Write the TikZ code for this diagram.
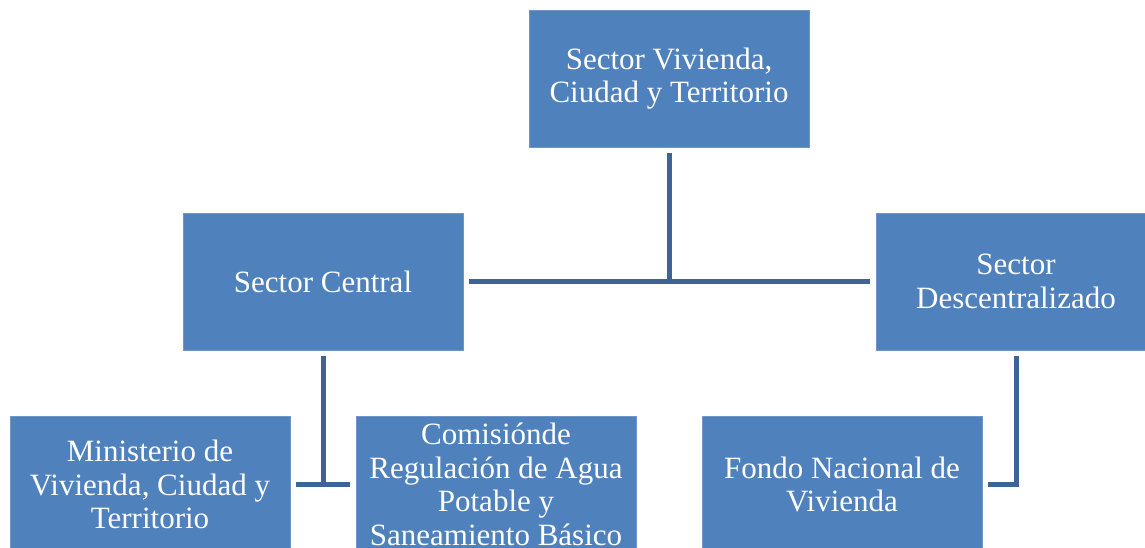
\documentclass[tikz,border=0pt]{standalone}
\usepackage{fontspec}
\setmainfont{Liberation Serif}
\definecolor{boxblue}{HTML}{4F81BD}
\definecolor{boxedge}{HTML}{7096C8}
\definecolor{linkblue}{HTML}{3E6497}
\tikzset{
   box/.style ={
      rectangle, draw=boxedge, fill=boxblue, text=white,
      line width=0.8pt, align=center,
      minimum width=280pt, minimum height=137pt,
      font=\fontsize{31}{33.5}\selectfont,
   },
   line/.style ={
      -, line width=5pt, color=linkblue,
   },
}
\begin{document}
\begin{tikzpicture}

      \useasboundingbox (0pt,0pt) rectangle (1145pt,-548pt);

      \node[box] (top) at (669pt,-78.5pt) {Sector Vivienda,\\Ciudad y Territorio};
      \node[box] (central) at (323pt,-281.5pt) {Sector Central};
      \node[box] (desc) at (1016pt,-281.5pt) {Sector\\Descentralizado};
      \node[box] (minis) at (150pt,-484.5pt) {Ministerio de\\Vivienda, Ciudad y\\Territorio};
      \node[box] (comis) at (496pt,-484.5pt) {Comisiónde\\Regulación de Agua\\Potable y\\Saneamiento Básico};
      \node[box] (fondo) at (842pt,-484.5pt) {Fondo Nacional de\\Vivienda};

      \coordinate (hub) at (top.south |- central.east);

      \draw[line] ([yshift=-6pt]top.south) -- (hub);
      \draw[line] ([xshift=6pt]central.east) -- ([xshift=-6pt]desc.west);
      \draw[line] ([yshift=-6pt]central.south) -- (central.south |- minis.east);
      \draw[line] ([xshift=6pt]minis.east) -- ([xshift=-6pt]comis.west);
      \draw[line] ([yshift=-6pt]desc.south) |- ([xshift=6pt]fondo.east);

\end{tikzpicture}
\end{document}
